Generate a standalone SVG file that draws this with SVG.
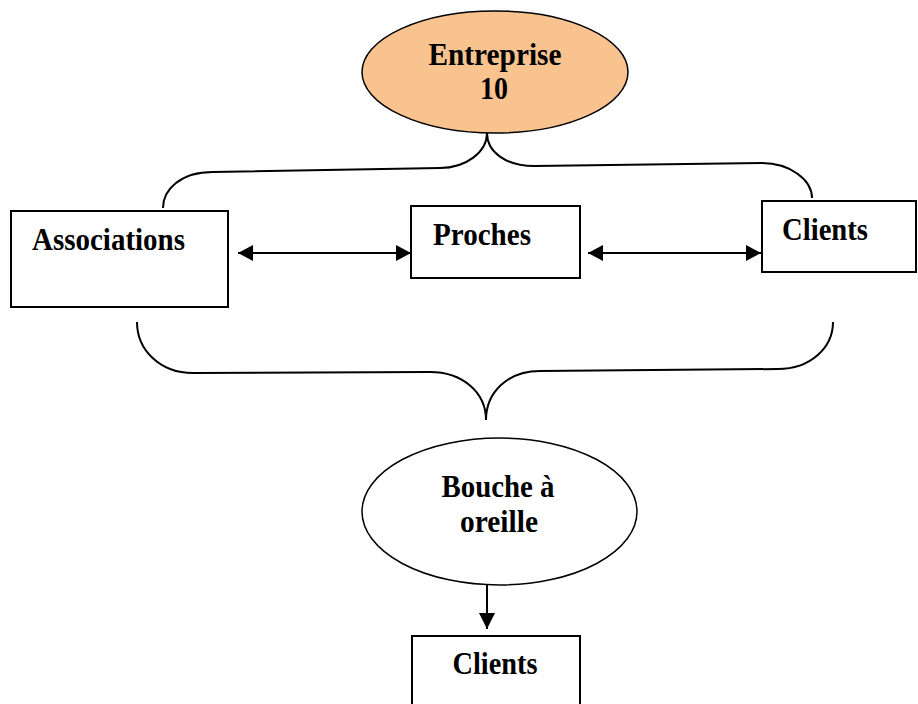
<svg xmlns="http://www.w3.org/2000/svg" width="918" height="704" viewBox="0 0 918 704">
<style>
  .lbl { font-family: "Liberation Serif", "Times New Roman", serif; font-weight: bold; font-size: 31px; fill: #000; }
  .box { fill: #fff; stroke: #000; stroke-width: 2; }
  .ell { stroke: #000; stroke-width: 1.5; }
  .conn { fill: none; stroke: #000; stroke-width: 2; }
</style>
<defs>
  <marker id="ah" viewBox="0 0 15 16" refX="15" refY="8" markerWidth="15" markerHeight="16" markerUnits="userSpaceOnUse" orient="auto-start-reverse">
    <path d="M0,0 L15,8 L0,16 Z" fill="#000"/>
  </marker>
  <marker id="ahd" viewBox="0 0 16 16" refX="16" refY="8" markerWidth="16" markerHeight="16" markerUnits="userSpaceOnUse" orient="auto">
    <path d="M0,0 L16,8 L0,16 Z" fill="#000"/>
  </marker>
</defs>
<rect width="918" height="704" fill="#fff"/>
<g id="connectors">
  <path class="conn" d="M163,208 C163,190 180,172 213,172 L440,168 C466,168 487,152 487,133 C487,152 506,166 534,166 L762,163 C790,163 812,180 812,198"/>
  <path class="conn" d="M137,322 C137,350 160,373 193,373 L430,372 C462,372 486,392 486,420 C486,392 508,371 540,371 L778,369 C810,369 833,348 833,322"/>
  <line class="conn" x1="238" y1="253" x2="411" y2="253" marker-start="url(#ah)" marker-end="url(#ah)"/>
  <line class="conn" x1="588" y1="253" x2="761" y2="253" marker-start="url(#ah)" marker-end="url(#ah)"/>
  <line class="conn" x1="487" y1="582" x2="487" y2="629" marker-end="url(#ahd)"/>
</g>
<g id="entreprise">
  <ellipse class="ell" cx="495" cy="72" rx="133" ry="61" fill="#F9C38F"/>
  <text class="lbl" x="495" y="65" text-anchor="middle" textLength="133" lengthAdjust="spacingAndGlyphs">Entreprise</text>
  <text class="lbl" x="494" y="99" text-anchor="middle" textLength="28" lengthAdjust="spacingAndGlyphs">10</text>
</g>
<g id="associations">
  <rect class="box" x="11" y="211" width="217" height="96"/>
  <text class="lbl" x="32" y="250" textLength="153" lengthAdjust="spacingAndGlyphs">Associations</text>
</g>
<g id="proches">
  <rect class="box" x="411" y="206" width="169" height="72"/>
  <text class="lbl" x="433" y="245" textLength="98" lengthAdjust="spacingAndGlyphs">Proches</text>
</g>
<g id="clients-top">
  <rect class="box" x="762" y="201" width="154" height="71"/>
  <text class="lbl" x="782" y="240" textLength="86" lengthAdjust="spacingAndGlyphs">Clients</text>
</g>
<g id="bouche">
  <ellipse class="ell" cx="499.5" cy="511.5" rx="137.5" ry="73.5" fill="#fff"/>
  <text class="lbl" x="498" y="497" text-anchor="middle" textLength="113" lengthAdjust="spacingAndGlyphs">Bouche à</text>
  <text class="lbl" x="499" y="532" text-anchor="middle" textLength="78" lengthAdjust="spacingAndGlyphs">oreille</text>
</g>
<g id="clients-bottom">
  <rect class="box" x="412" y="636" width="168" height="80"/>
  <text class="lbl" x="495" y="674" text-anchor="middle" textLength="85" lengthAdjust="spacingAndGlyphs">Clients</text>
</g>
</svg>
